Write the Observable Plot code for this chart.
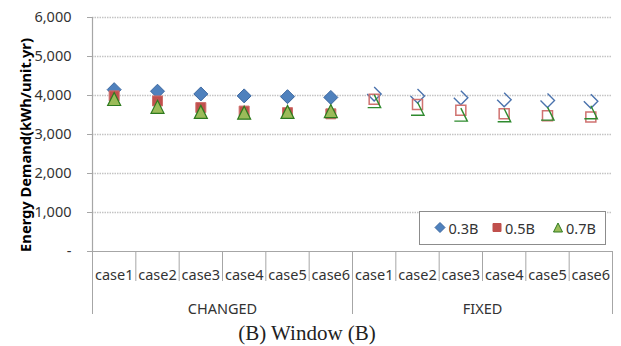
<!DOCTYPE html>
<html>
<head>
<meta charset="utf-8">
<script src="https://cdn.jsdelivr.net/npm/d3@7"></script>
<script src="https://cdn.jsdelivr.net/npm/@observablehq/plot@0.6"></script>
<style>
  html, body { margin: 0; padding: 0; background: #fff; }
  #chart { width: 621px; }
  #caption { width: 621px; height: 26px; line-height: 26px; text-align: center; font-family: "Liberation Serif", "Times New Roman", serif; font-size: 21px; color: #222; box-sizing: border-box; padding-right: 7px; }
</style>
</head>
<body>
<div id="chart"></div>
<div id="caption">(B) Window (B)</div>
<script>
const cases = ["case1", "case2", "case3", "case4", "case5", "case6"];
const groups = ["CHANGED", "FIXED"];
const seriesNames = ["0.3B", "0.5B", "0.7B"];
const yTicks = [0, 1000, 2000, 3000, 4000, 5000, 6000];

const changed03 = [4150, 4110, 4040, 3990, 3970, 3950];
const changed05 = [3990, 3860, 3690, 3600, 3560, 3530];
const changed07 = [3910, 3710, 3580, 3560, 3580, 3600];
const fixed03 = [4040, 3990, 3940, 3890, 3870, 3850];
const fixed05 = [3905, 3770, 3620, 3530, 3480, 3450];
const fixed07 = [3855, 3660, 3510, 3495, 3535, 3570];

const rows = (vals, g) => vals.map((v, i) => ({x: g * 6 + i + 0.5, v, cat: cases[i], group: groups[g]}));

const rad = (size) => Math.sqrt(size / Math.PI);
const diamondSym = {draw(c, size) { const r = rad(size); c.moveTo(0, -r); c.lineTo(r, 0); c.lineTo(0, r); c.lineTo(-r, 0); c.closePath(); }};
const squareSym = {draw(c, size) { const r = rad(size); c.moveTo(-r, -r); c.lineTo(r, -r); c.lineTo(r, r); c.lineTo(-r, r); c.closePath(); }};
const triangleSym = {draw(c, size) { const r = rad(size); c.moveTo(0, -r); c.lineTo(r, r); c.lineTo(-r, r); c.closePath(); }};
const diamondOpen = {draw(c, size) { const r = rad(size); c.moveTo(0, -r); c.lineTo(r, 0); c.lineTo(0, r); c.lineTo(-r, 0); }};
const triangleOpen = {draw(c, size) { const r = rad(size); c.moveTo(0, -r); c.lineTo(r, r); c.lineTo(-r, r); }};

const axisGray = "#a6a6a6";
const textColor = "#333333";
const inner = [1, 2, 3, 4, 5, 7, 8, 9, 10, 11];
const outer = [0, 6, 12];

const plot = Plot.plot({
  width: 621,
  height: 320,
  marginLeft: 92,
  marginRight: 9,
  marginTop: 17,
  marginBottom: 69,
  style: {fontFamily: "'Noto Sans', sans-serif", fontSize: "14.5px", color: textColor, background: "white", overflow: "visible"},
  x: {domain: [0, 12]},
  y: {domain: [0, 6000]},
  marks: [
    Plot.gridY(yTicks.filter(d => d > 0), {stroke: "#c4c4c4", strokeOpacity: 1, strokeWidth: 1.5, strokeDasharray: "1.5,1"}),
    Plot.ruleY([0], {stroke: axisGray, strokeWidth: 1.2}),
    Plot.ruleX([0], {stroke: axisGray, strokeWidth: 1.2}),
    Plot.axisY({ticks: yTicks, tickSize: 5, tickPadding: 16, stroke: axisGray, label: null,
      tickFormat: d => d === 0 ? "-" : d3.format(",")(d)}),
    Plot.axisX({ticks: d3.range(12).map(i => i + 0.5), tickSize: 0, tickPadding: 18, label: null,
      tickFormat: d => cases[Math.floor(d) % 6]}),
    Plot.axisX({ticks: [3, 9], tickSize: 0, tickPadding: 52, label: null,
      tickFormat: d => groups[d < 6 ? 0 : 1]}),
    Plot.axisX({ticks: inner, tickSize: 30, tickFormat: () => "", stroke: axisGray, label: null}),
    Plot.axisX({ticks: outer, tickSize: 63, tickFormat: () => "", stroke: axisGray, label: null}),
    // CHANGED (filled markers)
    Plot.dot(rows(changed03, 0), {x: "x", y: "v", symbol: diamondSym, r: 7, fill: "#4f81bd", stroke: "#3b67a0", strokeWidth: 1}),
    Plot.dot(rows(changed05, 0), {x: "x", y: "v", symbol: squareSym, r: 5, fill: "#c0504d", stroke: "#cf6e6b", strokeWidth: 1}),
    Plot.dot(rows(changed07, 0), {x: "x", y: "v", symbol: triangleSym, r: 6.5, fill: "#9bbb59", stroke: "#2d7a1e", strokeWidth: 1.2}),
    // FIXED (broken outline markers)
    Plot.dot(rows(fixed03, 1), {x: "x", y: "v", symbol: diamondOpen, r: 7, fill: "none", stroke: "#4a72ad", strokeWidth: 1.4}),
    Plot.dot(rows(fixed05, 1), {x: "x", y: "v", symbol: squareSym, r: 5, fill: "none", stroke: "#d07270", strokeWidth: 1.5}),
    Plot.dot(rows(fixed07, 1), {x: "x", y: "v", symbol: triangleOpen, r: 6.5, fill: "none", stroke: "#2e8a2e", strokeWidth: 1.4})
  ]
});

document.getElementById("chart").appendChild(plot);

const svg = d3.select(plot);
// y-axis title
svg.append("text")
  .attr("transform", "translate(25,145) rotate(-90)")
  .attr("text-anchor", "middle")
  .attr("dominant-baseline", "central")
  .attr("font-weight", "bold")
  .attr("font-size", "14.7px")
  .attr("fill", "#000")
  .text("Energy Demand(kWh/unit.yr)");

// legend
const lg = svg.append("g").attr("transform", "translate(419.5,211.5)");
lg.append("rect").attr("width", 186).attr("height", 33).attr("fill", "white").attr("stroke", "#8c8c8c").attr("stroke-width", 1);
const legItems = [
  {sym: diamondSym, size: 5, fill: "#4f81bd", stroke: "#3b67a0", cx: 20.5, tx: 29},
  {sym: squareSym, size: 4, fill: "#c0504d", stroke: "#c0504d", cx: 77.5, tx: 85.5},
  {sym: triangleSym, size: 4.5, fill: "#9bbb59", stroke: "#2d7a1e", cx: 138.5, tx: 146.5}
];
legItems.forEach((it, i) => {
  lg.append("path")
    .attr("d", d3.symbol(it.sym, it.size * it.size * Math.PI)())
    .attr("transform", `translate(${it.cx},16)`)
    .attr("fill", it.fill).attr("stroke", it.stroke).attr("stroke-width", 1);
  lg.append("text")
    .attr("x", it.tx).attr("y", 16)
    .attr("text-anchor", "start")
    .attr("dominant-baseline", "central")
    .attr("font-size", "14.5px")
    .attr("fill", textColor)
    .text(seriesNames[i]);
});
</script>
</body>
</html>
